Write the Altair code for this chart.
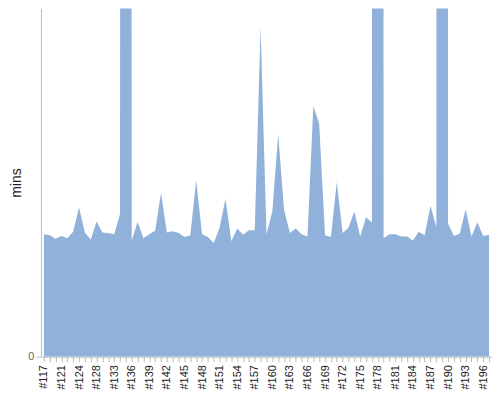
import altair as alt
import pandas as pd

builds = (["#117", "#118", "#119", "#121", "#122", "#123", "#124", "#125", "#126",
           "#128", "#130", "#131"]
          + ["#%d" % n for n in range(133, 198)])

mins = [21.1, 20.9, 20.3, 20.8, 20.4, 21.5, 25.7, 21.4, 20.2, 23.3,
        21.4, 21.3, 21.1, 24.6, 2000.0, 20.0, 23.2, 20.4, 21.1, 21.7,
        28.2, 21.4, 21.6, 21.3, 20.6, 20.9, 30.4, 21.1, 20.6, 19.6,
        22.2, 27.2, 19.9, 22.1, 21.0, 21.8, 21.8, 56.9, 21.1, 25.0,
        38.3, 25.3, 21.3, 22.1, 21.1, 20.7, 43.2, 40.1, 20.9, 20.6,
        30.1, 21.3, 22.2, 25.0, 20.7, 24.0, 23.1, 2000.0, 20.4, 21.1,
        21.1, 20.7, 20.7, 20.0, 21.5, 20.9, 26.0, 22.3, 2000.0, 22.9,
        20.8, 21.2, 25.4, 20.7, 23.1, 20.8, 21.0]

df = pd.DataFrame({"build": builds, "mins": mins})

chart = alt.Chart(df).mark_area(clip=True, color="#8FB1DA", opacity=1, line=False).encode(
    x=alt.X("build:N", sort=None, title=None,
            axis=alt.Axis(labelAngle=270, labelOverlap="greedy", labelSeparation=2,
                          labelFontSize=11, labelFont="Liberation Sans", labelColor="#222",
                          labelPadding=3,
                          domainColor="#bbb", tickColor="#bbb", grid=False)),
    y=alt.Y("mins:Q", title="mins", scale=alt.Scale(domain=[0, 60]),
            axis=alt.Axis(values=[0], grid=False, labelFontSize=11,
                          labelFont="Liberation Sans", labelColor="#666",
                          domainColor="#bbb", tickColor="#bbb",
                          titleFont="Liberation Sans", titleFontSize=14,
                          titleFontWeight="normal", titleColor="#222")),
).properties(
    width=452, height=349,
    padding={"left": 1, "top": 0, "right": 0, "bottom": 0},
).configure_view(stroke=None)

chart.save("out.html", embed_options={"renderer": "svg", "actions": False})
